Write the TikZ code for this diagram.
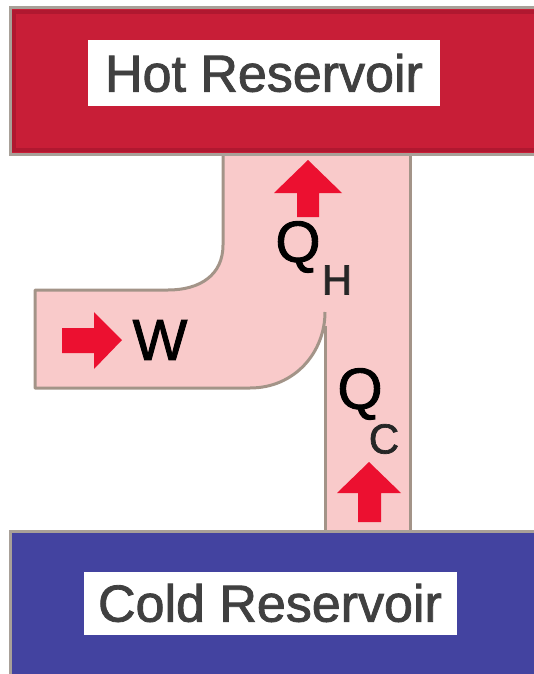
\documentclass[tikz,border=0pt]{standalone}
\usepackage{fontspec}
\setmainfont{Liberation Sans}
\newfontfamily\heavyfont[FakeBold=1.6]{Liberation Sans}
\definecolor{hotred}{HTML}{C81E37}
\definecolor{hotdark}{HTML}{B01830}
\definecolor{coldblue}{HTML}{4343A0}
\definecolor{pipepink}{HTML}{F9CACA}
\definecolor{pipeedge}{HTML}{A39488}
\definecolor{arrowred}{HTML}{EC1030}
\definecolor{labelgrey}{HTML}{404040}
\definecolor{rimgrey}{HTML}{A8A098}
\tikzset{
  reservoir/.style={draw=rimgrey, line width=3pt},
  labelbox/.style={fill=white, inner sep=0pt, text=labelgrey, font=\heavyfont\fontsize{52}{52}\selectfont},
  flowarrow/.style={fill=arrowred, draw=none},
  bigsym/.style={inner sep=0pt, text=black, font=\heavyfont\fontsize{58}{58}\selectfont},
  subsym/.style={inner sep=0pt, text=black!85, font=\heavyfont\fontsize{42}{42}\selectfont},
  pipeline/.style={draw=pipeedge, line width=3pt, line join=round}
}
\begin{document}
\begin{tikzpicture}[x=1pt, y=-1pt]
\useasboundingbox (0,0) rectangle (534,674);
% pipe
\coordinate (p1) at (223,150);
\coordinate (p2) at (223,245);
\coordinate (p3) at (168,290);
\coordinate (p4) at (35,290);
\coordinate (p5) at (35,388);
\coordinate (p6) at (250,388);
\coordinate (p7) at (325,312);
\coordinate (p7b) at (325,326);
\coordinate (p8) at (325,532);
\coordinate (p9) at (410,532);
\coordinate (p10) at (410,150);
\fill[pipepink] (p1) -- (p2) .. controls (223,275) and (200,290) .. (p3) -- (p4) -- (p5) -- (p6)
  .. controls (295,388) and (325,352) .. (p7) -- (p8) -- (p9) -- (p10) -- cycle;
\draw[pipeline] (p1) -- (p2) .. controls (223,275) and (200,290) .. (p3) -- (p4) -- (p5) -- (p6)
  .. controls (295,388) and (325,352) .. (p7);
\draw[pipeline] (p7b) -- (p8);
\draw[pipeline] (p9) -- (p10);
% reservoirs
\fill[hotred, draw=rimgrey, line width=3pt] (10,8) rectangle (540,154);
\draw[hotdark, line width=4pt] (14,12) rectangle (540,150);
\fill[coldblue, draw=rimgrey, line width=3pt] (10,531) rectangle (540,680);
\node[labelbox, minimum width=352pt, minimum height=66pt] (hot) at (264,73) {Hot Reservoir};
\node[labelbox, minimum width=373pt, minimum height=63pt] (cold) at (270,603) {Cold Reservoir};
% arrows
\fill[flowarrow] (308,160) -- (342,193) -- (319,193) -- (319,217) -- (297,217) -- (297,193) -- (274,193) -- cycle;
\fill[flowarrow] (369,462) -- (401,493) -- (381,493) -- (381,522) -- (358,522) -- (358,493) -- (337,493) -- cycle;
\fill[flowarrow] (122,340) -- (94,312) -- (94,328) -- (62,328) -- (62,353) -- (94,353) -- (94,369) -- cycle;
% labels
\node[bigsym] (w) at (160,340) {W};
\node[bigsym] (qh) at (298,247) {Q};
\node[subsym] (h) at (337,280) {H};
\node[bigsym] (qc) at (360,394) {Q};
\node[subsym] (c) at (384,439) {C};
\end{tikzpicture}
\end{document}
